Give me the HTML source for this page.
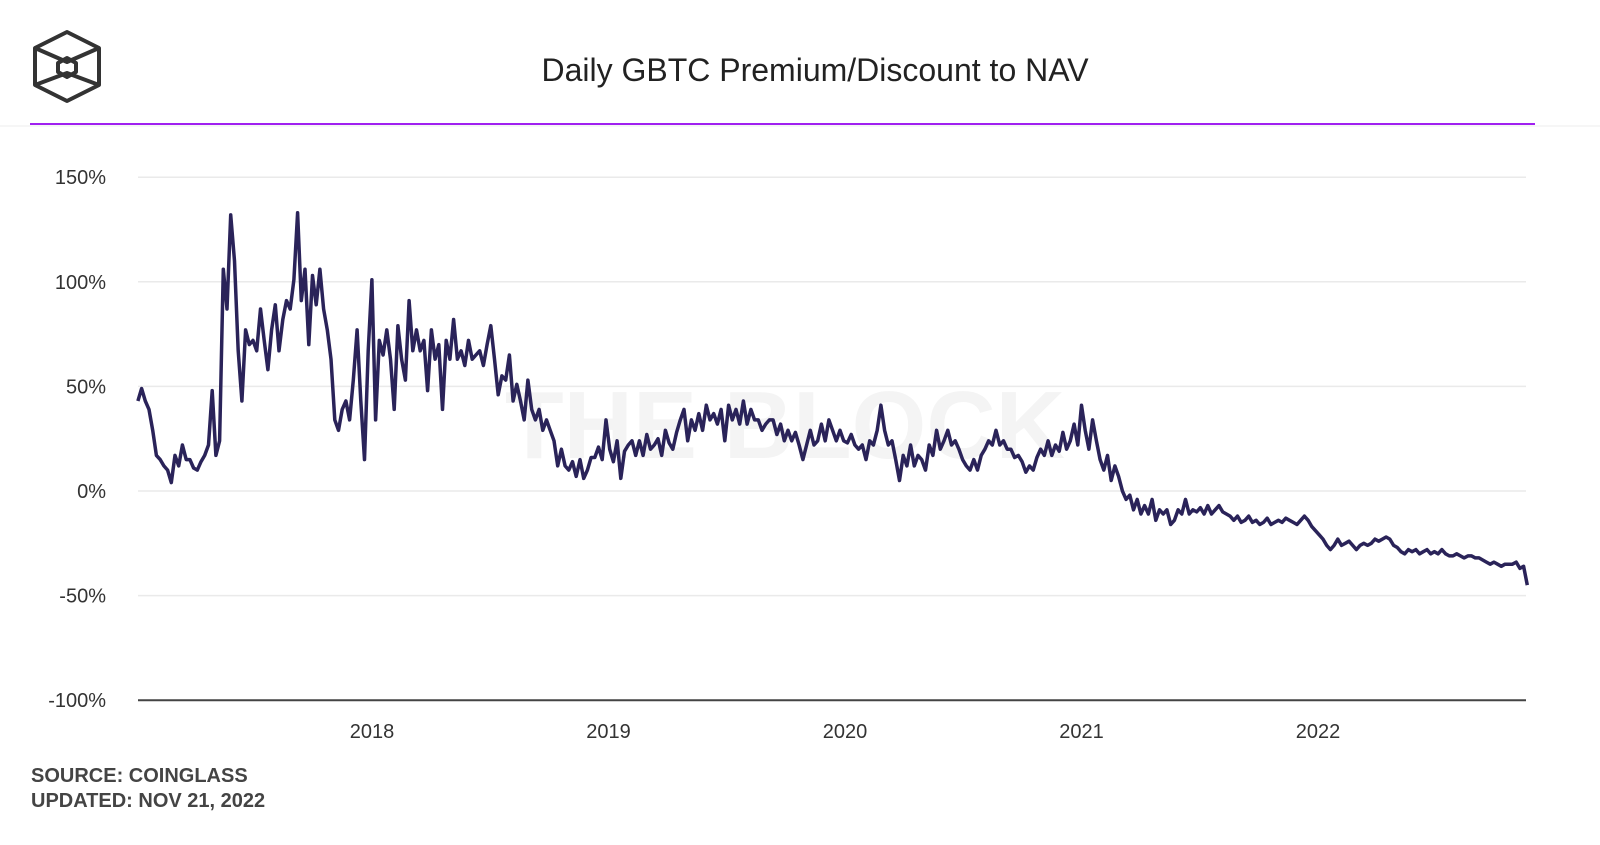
<!DOCTYPE html>
<html><head><meta charset="utf-8"><style>
body{margin:0;background:#fff;width:1600px;height:840px;overflow:hidden;font-family:"Liberation Sans",sans-serif}
</style></head><body>
<svg id="chart" width="1600" height="840" viewBox="0 0 1600 840" xmlns="http://www.w3.org/2000/svg">
<g fill="none" stroke="#333" stroke-width="4" stroke-linejoin="round">
<polygon points="67,32 99,48 99,85 67,101 35,85 35,48"/>
<polyline points="35,48 67,62 99,48"/>
<polyline points="35,85 67,73 99,85"/>
<polygon points="67,58 76,63 76,72 67,77 58,72 58,63"/>
</g>
<text x="815" y="81" text-anchor="middle" font-size="32" fill="#222">Daily GBTC Premium/Discount to NAV</text>
<line x1="0" y1="126" x2="1600" y2="126" stroke="#eee" stroke-width="1"/>
<line x1="30" y1="124" x2="1535" y2="124" stroke="#a020f0" stroke-width="2"/>
<text x="785" y="458" text-anchor="middle" font-size="96" font-weight="bold" fill="#f4f4f4">THE BLOCK</text>
<g id="grid"></g><g id="yl"></g><g id="xl"></g><g id="series"></g>
<text x="31" y="782" font-size="20" font-weight="bold" fill="#444">SOURCE: COINGLASS</text>
<text x="31" y="807" font-size="20" font-weight="bold" fill="#444">UPDATED: NOV 21, 2022</text>
</svg>
<script>
const yTicks=[150,100,50,0,-50,-100];
const yTickLabels=["150%","100%","50%","0%","-50%","-100%"];
const xTicks=[2018,2019,2020,2021,2022];
const xTickLabels=["2018","2019","2020","2021","2022"];
const startYear=2017.01, endYear=2022.885;
const premium=[43,49,43,39,29,17,15,12,10,4,17,12,22,15,15,11,10,14,17,22,48,17,24,106,87,132,110,
67,43,77,70,72,67,87,72,58,77,89,67,82,91,87,101,133,91,106,70,103,89,106,87,
77,63,34,29,39,43,34,53,77,43,15,67,101,34,72,65,77,63,39,79,63,53,91,67,
77,67,72,48,77,63,70,39,72,63,82,63,67,60,72,63,65,67,60,70,79,63,46,55,
53,65,43,51,43,34,53,39,34,39,29,34,29,24,12,20,12,10,14,7,15,6,10,16,
16,21,15,34,20,14,24,6,19,22,24,17,24,17,27,20,22,25,17,29,23,20,28,34,
39,24,34,29,37,29,41,34,37,32,39,24,41,34,39,32,43,32,39,34,34,29,32,34,
34,27,32,24,29,24,28,22,15,22,29,22,24,32,24,34,29,24,29,24,23,27,22,20,
22,15,24,22,29,41,29,22,24,15,5,17,12,22,12,17,15,10,22,17,29,20,24,29,
22,24,20,15,12,10,15,10,17,20,24,22,29,22,24,20,20,16,17,14,9,12,10,16,
20,17,24,17,22,19,28,20,24,32,22,41,29,20,34,24,15,10,17,5,12,7,0,-4,
-2,-9,-4,-11,-7,-11,-4,-14,-9,-11,-9,-16,-14,-9,-11,-4,-11,-9,-10,-8,-11,-7,-11,-9,
-7,-10,-11,-12,-14,-12,-15,-14,-12,-15,-14,-16,-15,-13,-16,-15,-14,-15,-13,-14,-15,-16,-14,-12,
-14,-17,-19,-21,-23,-26,-28,-26,-23,-26,-25,-24,-26,-28,-26,-25,-26,-25,-23,-24,-23,-22,-23,-26,
-27,-29,-30,-28,-29,-28,-30,-29,-28,-30,-29,-30,-28,-30,-31,-31,-30,-31,-32,-31,-31,-32,-32,-33,
-34,-35,-34,-35,-36,-35,-35,-35,-34,-37,-36,-45];
const NS="http://www.w3.org/2000/svg";
const X0=138,X1=1526;
function xScale(yr){return 372+(yr-2018)*236.5;}
function yScale(v){return 491-v*104.6/50;}
function mk(tag,attrs,parent){const e=document.createElementNS(NS,tag);for(const k in attrs)e.setAttribute(k,attrs[k]);parent.appendChild(e);return e;}
const grid=document.getElementById('grid'),yl=document.getElementById('yl'),xl=document.getElementById('xl'),ser=document.getElementById('series');
yTicks.forEach((v,i)=>{
  const y=yScale(v);
  const g=mk('line',{x1:X0,x2:X1,y1:y,y2:y,stroke:v===-100?'#444':'#eaeaea','stroke-width':v===-100?2:1.5},grid);
  
  
  const t=mk('text',{x:106,y:y+7,'text-anchor':'end','font-size':20,fill:'#333'},yl);
  t.textContent=yTickLabels[i];
  
  
});
xTicks.forEach((v,i)=>{
  const t=mk('text',{x:xScale(v),y:738,'text-anchor':'middle','font-size':20,fill:'#333'},xl);
  t.textContent=xTickLabels[i];
  
  
});
const n=premium.length;
const pts=premium.map((v,i)=>{const yr=startYear+(endYear-startYear)*i/(n-1);return xScale(yr).toFixed(1)+','+yScale(v).toFixed(1);});
const line=mk('polyline',{points:pts.join(' '),fill:'none',stroke:'#2a2359','stroke-width':3.5,'stroke-linejoin':'round'},ser);


</script>
</body></html>
